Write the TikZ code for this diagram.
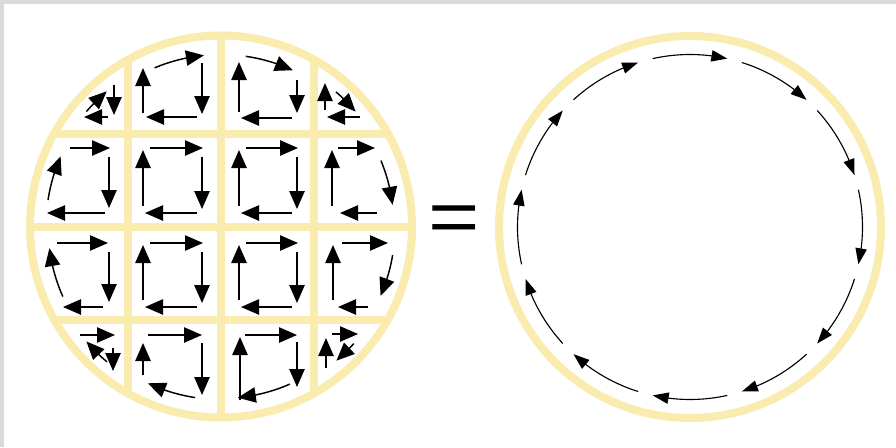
\documentclass[tikz,border=0pt]{standalone}
\usepackage{fontspec}
\setmainfont{Liberation Sans}
\usetikzlibrary{arrows.meta,bending}
\definecolor{ring}{RGB}{250,235,174}
\definecolor{framegray}{RGB}{218,218,218}
\tikzset{
  ringline/.style={draw=ring,line width=6pt},
  cellarrow/.style={line width=1.1pt,-{Triangle[length=13.5pt,width=11.5pt]}},
  looparrow/.style={line width=0.85pt,-{Triangle[length=12pt,width=8.5pt]}},
}
% arc arrow about the current origin: start angle, end angle, radius
\newcommand\arcarrow[4][cellarrow]{\draw[#1] (#2:#4) arc[start angle=#2,end angle=#3,radius=#4];}
% full square loop: L R T B (pixel coordinates, y downwards)
\newcommand\fullcell[4]{%
  \draw[cellarrow] ({#1+7},{-(#3)}) -- ({#2+1},{-(#3)});
  \draw[cellarrow] ({#2},{-(#3)-9}) -- ({#2},{-(#4)+4});
  \draw[cellarrow] ({#2-5},{-(#4)}) -- ({#1+2},{-(#4)});
  \draw[cellarrow] ({#1},{-(#4)+7}) -- ({#1},{-(#3)-2});
}
\newcommand\harrow[3]{\draw[cellarrow] (#1,-#3) -- (#2,-#3);}% x1 x2 y
\newcommand\varrow[3]{\draw[cellarrow] (#1,-#2) -- (#1,-#3);}% x y1 y2
\begin{document}
\begin{tikzpicture}[x=0.75pt,y=0.75pt]
\useasboundingbox (0,0) rectangle (896,-447);
\fill[white] (0,0) rectangle (896,-447);
\fill[framegray] (0,0) rectangle (896,-4);
\fill[framegray] (0,0) rectangle (4,-447);

% ---------- left disc with grid ----------
\begin{scope}[shift={(221,-226.5)}]
  \begin{scope}
    \clip (0,0) circle (191);
    \foreach \d in {-93,0,93} {
      \draw[ringline] (\d,-200) -- (\d,200);
      \draw[ringline] (-200,\d) -- (200,\d);
    }
  \end{scope}
  \draw[ringline] (0,0) circle (191);
  % arcs along the rim
  \arcarrow{139.5}{130.2}{177}
  \arcarrow{112.7}{95.7}{172}
  \arcarrow{81.7}{65.3}{172}
  \arcarrow{49.5}{40.5}{177}
  \arcarrow{22.4}{7.2}{173}
  \arcarrow{-9.5}{-23.5}{174}
  \arcarrow{-41.4}{-49.3}{177}
  \arcarrow{-66.4}{-84.4}{172}
  \arcarrow{-98.6}{-115}{173}
  \arcarrow{-130.1}{-139.5}{177}
  \arcarrow{-156.1}{-172.8}{173}
  \arcarrow{171.3}{156.4}{175}
\end{scope}

% row 1
\varrow{114}{85}{115}
\harrow{108}{84}{117}
\varrow{143}{113}{68}
\varrow{202}{63}{114}
\harrow{197}{146}{117}
\varrow{239}{112}{62}
\varrow{297}{80}{113}
\harrow{292}{241}{118}
\varrow{325}{110}{83}
\harrow{360}{327}{117}
% row 2
\harrow{70}{110}{148}
\varrow{109}{157}{208}
\harrow{105}{47}{213}
\fullcell{143}{202}{148}{213}
\fullcell{239}{297}{148}{213}
\varrow{332}{206}{150}
\harrow{338}{375}{148}
\harrow{377}{340}{213}
% row 3
\harrow{57}{108}{243}
\varrow{109}{252}{302}
\harrow{103}{63}{307}
\fullcell{143}{202}{243}{307}
\fullcell{239}{297}{243}{307}
\varrow{333}{300}{245}
\harrow{342}{388}{243}
\harrow{368}{338}{307}
% row 4
\harrow{80}{115}{335}
\varrow{113}{348}{371}
\varrow{143}{375}{343}
\harrow{148}{202}{335}
\varrow{202}{343}{395}
\varrow{240}{400}{337}
\harrow{245}{297}{335}
\varrow{297}{342}{387}
\varrow{326}{368}{338}
\harrow{332}{358}{334}

% ---------- equals sign ----------
\node[inner sep=0pt] (eq) at (454,-224) {\scalebox{1}[0.85]{\fontsize{66}{66}\selectfont =}};

% ---------- right ring ----------
\begin{scope}[shift={(690,-227)}]
  \draw[ringline] (0,0) circle (191);
  \foreach \k [evaluate=\k as \s using 102.5-30*\k,
               evaluate=\k as \e using 77.5-30*\k] in {0,...,11}
    \draw[looparrow] (\s:172.5) arc[start angle=\s,end angle=\e,radius=172.5];
\end{scope}
\end{tikzpicture}
\end{document}
